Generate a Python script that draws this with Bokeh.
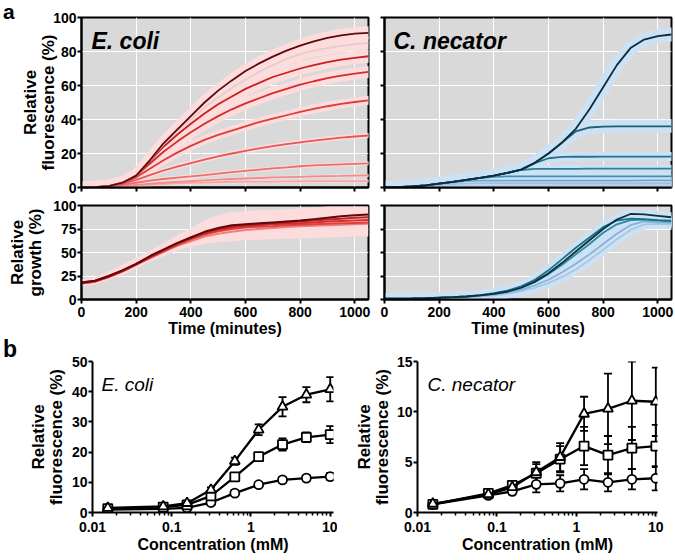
from bokeh.plotting import figure
from bokeh.layouts import column, row
from bokeh.models import (Range1d, FixedTicker, CustomJSTickFormatter, Label,
                          Whisker, TeeHead, ColumnDataSource, Div)
from bokeh.embed import file_html
from bokeh.resources import INLINE

FONT = "Liberation Sans"

# ---------------- data: panel a (time courses) ----------------
time_min = [0, 50, 100, 150, 200, 250, 300, 350, 400, 450, 500, 550,
            600, 650, 700, 750, 800, 850, 900, 950, 1000, 1050]
time_ticks = [0, 200, 400, 600, 800, 1000]

# E. coli relative fluorescence (%), low -> high concentration
ec_f1 = [0, 0, 0.2, 0.5, 1.0, 1.5, 2.0, 2.4, 2.7, 2.9, 3.1, 3.3, 3.4, 3.5, 3.5, 3.6, 3.6, 3.7, 3.7, 3.7, 3.8, 3.8]
ec_f2 = [0, 0.1, 0.3, 0.8, 1.5, 2.2, 2.8, 3.3, 3.8, 4.2, 4.6, 5.0, 5.3, 5.6, 5.9, 6.1, 6.3, 6.5, 6.7, 6.8, 7.0, 7.1]
ec_f3 = [0, 0.1, 0.5, 1.5, 2.8, 4.0, 5.0, 5.8, 6.5, 7.3, 8.2, 9.0, 9.8, 10.5, 11.2, 11.8, 12.5, 13.0, 13.3, 13.6, 13.9, 14.2]
ec_f4 = [0, 0.2, 0.7, 2.2, 4.5, 7.3, 10, 12.3, 14.4, 16.4, 18.3, 20, 21.6, 23, 24.3, 25.5, 26.6, 27.6, 28.5, 29.3, 30, 30.6]
ec_f5 = [0, 0.2, 0.8, 2.6, 6, 11, 16, 20.5, 24.5, 28, 31, 33.5, 36, 38.5, 40.5, 42.5, 44.5, 46.3, 47.8, 49.2, 50.3, 51.3]
ec_f6 = [0, 0.2, 0.8, 2.7, 6.8, 14, 21, 27, 32.5, 37.5, 42, 46, 49.5, 52.5, 55.5, 58, 60.5, 62.5, 64.3, 65.8, 67, 68]
ec_f7 = [0, 0.2, 0.8, 2.8, 7, 15.5, 24, 31, 37.5, 43.5, 49, 53.5, 58, 61.5, 65, 67.5, 70, 72, 73.8, 75.2, 76.3, 77.2]
ec_f8 = [0, 0.2, 0.8, 2.8, 7, 16, 25.5, 33, 40, 47, 53, 58.5, 63.5, 68, 72, 75.5, 78.5, 80.5, 82, 83.3, 84.3, 85]
ec_f9 = [0, 0.2, 0.8, 2.8, 7, 16, 26, 34, 42, 50, 57, 63, 68.5, 73, 77, 80.5, 83.5, 86, 88, 89.5, 90.5, 91]

# C. necator relative fluorescence (%), low -> high concentration
cn_f1 = [0, 0.1, 0.3, 0.5, 0.7, 0.8, 0.9, 1.0, 1.0, 1.1, 1.1, 1.1, 1.2, 1.2, 1.2, 1.2, 1.2, 1.2, 1.2, 1.2, 1.2, 1.2]
cn_f2 = [0, 0.2, 0.5, 1.0, 1.6, 2.0, 2.3, 2.4, 2.5, 2.5, 2.5, 2.5, 2.5, 2.5, 2.5, 2.5, 2.5, 2.5, 2.5, 2.5, 2.5, 2.5]
cn_f3 = [0, 0.2, 0.6, 1.3, 2.2, 3.1, 3.7, 4.0, 4.1, 4.1, 4.1, 4.1, 4.1, 4.1, 4.1, 4.1, 4.1, 4.1, 4.1, 4.2, 4.2, 4.2]
cn_f4 = [0, 0.2, 0.6, 1.3, 2.3, 3.3, 4.5, 5.6, 6.3, 6.5, 6.5, 6.5, 6.5, 6.5, 6.5, 6.5, 6.5, 6.5, 6.6, 6.6, 6.6, 6.6]
cn_f5 = [0, 0.2, 0.6, 1.3, 2.3, 3.3, 4.5, 5.7, 7.0, 8.6, 10.3, 10.9, 11.0, 11.0, 11.0, 11.1, 11.1, 11.1, 11.1, 11.1, 11.1, 11.1]
cn_f6 = [0, 0.2, 0.6, 1.3, 2.3, 3.3, 4.5, 5.7, 7.0, 8.6, 10.5, 14.3, 17.2, 18.0, 18.1, 18.1, 18.2, 18.2, 18.2, 18.2, 18.2, 18.2]
cn_f7 = [0, 0.2, 0.6, 1.3, 2.3, 3.3, 4.5, 5.7, 7.0, 8.6, 10.5, 14.5, 20, 26.5, 33, 35.3, 35.8, 36, 36, 36, 36, 36]
cn_f8 = [0, 0.2, 0.6, 1.3, 2.3, 3.3, 4.5, 5.7, 7.0, 8.6, 10.5, 14.5, 20, 26.5, 34.5, 46, 59, 72, 82, 87, 89, 90]

# E. coli relative growth (%)
ec_g1 = [17, 19, 24, 30, 37, 44, 51, 57, 62, 67, 70, 72, 74, 75, 76, 77, 78, 78.5, 79, 79.5, 80, 80.5]
ec_g2 = [17, 19, 24, 30, 37, 44, 51, 58, 64, 69, 72.5, 75, 76.5, 77.5, 78, 79, 79.5, 80, 80.5, 81, 81.5, 82]
ec_g3 = [17, 20, 24, 30, 37, 45, 52, 59, 65, 70, 74, 76.5, 78, 79, 80, 80.5, 81, 82, 83, 83.5, 84, 84.5]
ec_g4 = [18, 20, 25, 31, 38, 46, 53, 60, 66, 71, 75, 77.5, 79, 80, 81, 82, 83, 84, 85, 86, 87, 87.5]
ec_g5 = [18, 20, 25, 31, 38, 46, 53, 60, 66, 72, 76, 79, 80, 81, 82, 83, 84, 85.5, 87, 88.5, 89.5, 90.5]
ec_g_upper = [22, 24, 30, 37, 45, 52, 60, 68, 76, 84, 90, 93, 94, 95, 95, 96, 97, 98, 99, 99, 99, 99]
ec_g_lower = [14, 16, 21, 26, 33, 40, 46, 52, 56, 59, 61, 62, 63, 63.5, 64, 64.5, 65, 65.5, 66, 66.5, 67, 67]

# C. necator relative growth (%)
cn_g1 = [1, 1, 1.1, 1.3, 1.6, 2, 2.5, 3.3, 4.5, 6.2, 8.8, 12.5, 17.5, 24, 32, 42, 53, 64, 74, 80, 80.5, 80]
cn_g2 = [1, 1, 1.1, 1.4, 1.8, 2.2, 2.8, 3.8, 5.2, 7.3, 10.5, 15, 21, 29, 38, 48, 59, 70, 79, 83, 82, 81.5]
cn_g3 = [1, 1, 1.2, 1.5, 2, 2.5, 3.2, 4.3, 6, 8.5, 12.5, 18.5, 27, 37, 48, 59, 71, 80, 84.5, 85, 84, 83]
cn_g4 = [1, 1, 1.2, 1.5, 2, 2.6, 3.4, 4.7, 6.7, 9.5, 14, 21, 31, 43, 55, 66, 77, 84, 86, 85.5, 84.5, 84]
cn_g5 = [1, 1, 1.2, 1.5, 2, 2.5, 3.2, 4.3, 6, 8.5, 12.5, 19, 28, 39, 51, 63, 75, 85, 91, 90.5, 89, 87.5]

# ---------------- data: panel b (dose response) ----------------
conc_mM = [0.0156, 0.078, 0.156, 0.3125, 0.625, 1.25, 2.5, 5, 10]
conc_ticks = [0.01, 0.1, 1, 10]

ec_tri = [1.5, 2.0, 3.1, 7.5, 17.0, 27.4, 35.0, 39.0, 40.8]
ec_tri_err = [0.5, 0.5, 0.6, 0.8, 1.2, 1.8, 3.2, 2.5, 4.0]
ec_sq = [1.3, 1.8, 2.5, 5.5, 11.8, 18.5, 22.5, 24.9, 25.8]
ec_sq_err = [0.5, 0.5, 0.6, 0.8, 1.0, 1.2, 2.0, 1.6, 2.8]
ec_circ = [1.0, 1.2, 1.5, 3.3, 6.4, 9.2, 10.8, 11.4, 11.9]
ec_circ_err = [0.4, 0.4, 0.5, 0.6, 0.8, 0.8, 1.0, 0.8, 1.2]

cn_tri = [0.86, 1.8, 2.5, 4.0, 5.5, 9.8, 10.3, 11.1, 11.0]
cn_tri_err = [0.2, 0.3, 0.4, 1.0, 1.4, 1.7, 3.5, 3.9, 3.4]
cn_sq = [0.8, 1.9, 2.7, 3.9, 5.3, 6.6, 5.7, 6.4, 6.6]
cn_sq_err = [0.2, 0.3, 0.4, 0.9, 1.3, 1.9, 1.9, 2.1, 2.1]
cn_circ = [0.8, 1.7, 2.1, 2.8, 2.9, 3.3, 3.0, 3.3, 3.4]
cn_circ_err = [0.2, 0.3, 0.3, 0.8, 0.8, 1.0, 0.9, 1.0, 1.2]

# ---------------- styling helpers ----------------
BG = "#d9d9d9"
PINK_BAND = "#fcdcdc"
BLUE_BAND = "#cce2f4"


def add_text(p, x, y, text, dx, dy, size, style):
    p.add_layout(Label(x=x, y=y, x_offset=dx, y_offset=dy, text=text,
                       text_font=FONT, text_font_size=f"{size}px",
                       text_font_style=style, text_align="left",
                       text_baseline="alphabetic", text_color="black"))


def style_axes(p):
    for ax in p.axis:
        ax.axis_line_color = "black"
        ax.axis_line_width = 2
        ax.major_tick_in = 0
        ax.major_tick_out = 4
        ax.major_tick_line_width = 2
        ax.major_tick_line_color = "black"
        ax.major_label_text_font = FONT
        ax.major_label_text_font_style = "bold"
        ax.major_label_text_font_size = "14px"
        ax.major_label_text_color = "black"
        ax.axis_label_text_font = FONT
        ax.axis_label_text_font_style = "bold"
        ax.axis_label_text_color = "black"
    p.xaxis.major_label_standoff = 3
    p.yaxis.major_label_standoff = 1
    p.xaxis.axis_label_text_font_size = "16px"
    p.yaxis.axis_label_text_font_size = "17px"
    p.yaxis.axis_label_text_line_height = 0.95


def hide_labels(ax):
    ax.major_label_text_color = None
    ax.major_label_text_alpha = 0
    ax.major_label_text_font_size = "1px"
    ax.major_label_standoff = 0


def time_fig(width, height, bl, br, bt, bb, y_ticks, show_x, show_y):
    p = figure(width=width, height=height, x_range=Range1d(0, 1050),
               y_range=Range1d(0, 100), output_backend="svg",
               toolbar_location=None, min_border_left=bl,
               min_border_right=br, min_border_top=bt, min_border_bottom=bb)
    p.background_fill_color = BG
    p.border_fill_color = "white"
    p.outline_line_color = "black"
    p.outline_line_width = 2
    p.xaxis.ticker = FixedTicker(ticks=time_ticks)
    p.yaxis.ticker = FixedTicker(ticks=y_ticks)
    p.grid.grid_line_color = "white"
    p.grid.grid_line_width = 1
    style_axes(p)
    for ax in p.axis:
        ax.minor_tick_line_color = None
    if not show_x:
        hide_labels(p.xaxis[0])
    if not show_y:
        hide_labels(p.yaxis[0])
    return p


def conc_fig(width, height, bl, br, bt, bb, x_max, y_max, y_ticks):
    p = figure(width=width, height=height, x_axis_type="log",
               x_range=Range1d(0.01, x_max), y_range=Range1d(0, y_max),
               output_backend="svg", toolbar_location=None,
               min_border_left=bl, min_border_right=br,
               min_border_top=bt, min_border_bottom=bb)
    p.outline_line_color = None
    p.grid.visible = False
    p.background_fill_color = "white"
    p.border_fill_color = "white"
    minor = [k * d for d in (0.01, 0.1, 1, 10) for k in range(2, 10)
             if k * d <= x_max]
    p.xaxis.ticker = FixedTicker(ticks=conc_ticks, minor_ticks=minor)
    p.xaxis.formatter = CustomJSTickFormatter(
        code="return tick >= 1 ? Math.round(tick).toString() : String(Number(tick.toPrecision(1)));")
    p.yaxis.ticker = FixedTicker(ticks=y_ticks)
    style_axes(p)
    p.xaxis.major_label_standoff = 5
    p.xaxis.minor_tick_in = 0
    p.xaxis.minor_tick_out = 3
    p.xaxis.minor_tick_line_width = 1.5
    p.xaxis.minor_tick_line_color = "black"
    p.yaxis.minor_tick_line_color = None
    return p


def dose_series(p, vals, errs, marker, size):
    src = ColumnDataSource(dict(
        x=conc_mM, y=vals,
        lo=[v - e for v, e in zip(vals, errs)],
        hi=[v + e for v, e in zip(vals, errs)]))
    p.add_layout(Whisker(source=src, base="x", upper="hi", lower="lo",
                         line_color="black", line_width=1.8,
                         upper_head=TeeHead(size=8, line_width=1.8, line_color="black"),
                         lower_head=TeeHead(size=8, line_width=1.8, line_color="black")))
    p.line("x", "y", source=src, line_color="black", line_width=2.3)
    p.scatter("x", "y", source=src, marker=marker, size=size,
              fill_color="white", line_color="black", line_width=1.8)


def panel_letter(letter, width, height, size, lh):
    return Div(text=f'<div style="padding-left:3px">{letter}</div>',
               width=width, height=height, margin=0,
               styles={"font-family": FONT, "font-weight": "bold",
                       "font-size": f"{size}px", "line-height": str(lh),
                       "color": "black"})


# ---------------- panel a, top left: E. coli fluorescence ----------------
a1 = time_fig(362, 196, 67, 8, 17, 9, [0, 20, 40, 60, 80, 100], False, True)
a1.yaxis.axis_label = "Relative\nfluorescence (%)"
a1.yaxis.axis_label_standoff = -8
ec_f_series = [ec_f1, ec_f2, ec_f3, ec_f4, ec_f5, ec_f6, ec_f7, ec_f8, ec_f9]
ec_f_colors = ["#f4a6a6", "#ef8c8c", "#ea7070", "#e45858", "#dc3c3c",
               "#d42c2c", "#c8201f", "#e6cccc", "#5c0a0e"]
ec_f_band_w = [3, 3, 4, 5, 9, 12, 13, 13, 13]
for ys, w in zip(ec_f_series, ec_f_band_w):
    a1.line(time_min, ys, line_color=PINK_BAND, line_width=w,
            line_cap="round", line_join="round")
for ys, c in zip(ec_f_series, ec_f_colors):
    a1.line(time_min, ys, line_color=c, line_width=1.8)
add_text(a1, 0, 100, "E. coli", 10, -23, 23, "bold italic")

# ---------------- panel a, top right: C. necator fluorescence ----------------
a2 = time_fig(298, 196, 8, 3, 17, 9, [0, 20, 40, 60, 80, 100], False, False)
cn_f_series = [cn_f1, cn_f2, cn_f3, cn_f4, cn_f5, cn_f6, cn_f7, cn_f8]
cn_f_colors = ["#b5cbe9", "#9fc0e3", "#6fa7cf", "#3d8fb0", "#2a7f9a",
               "#23738d", "#1b5f76", "#0c2c3a"]
cn_f_band_w = [7, 7, 7, 7, 8, 9, 13, 14]
for ys, w in zip(cn_f_series, cn_f_band_w):
    a2.line(time_min, ys, line_color=BLUE_BAND, line_width=w,
            line_cap="round", line_join="round")
for ys, c in zip(cn_f_series, cn_f_colors):
    a2.line(time_min, ys, line_color=c, line_width=1.8)
add_text(a2, 0, 100, "C. necator", 9, -23, 23, "bold italic")

# ---------------- panel a, bottom left: E. coli growth ----------------
a3 = time_fig(376, 144, 81, 8, 9, 41, [0, 25, 50, 75, 100], True, True)
a3.yaxis.axis_label = "Relative\ngrowth (%)"
a3.yaxis.axis_label_standoff = 5
a3.xaxis.axis_label = "Time (minutes)"
a3.xaxis.axis_label_standoff = 0
a3.varea(x=time_min, y1=ec_g_lower, y2=ec_g_upper, fill_color=PINK_BAND)
ec_g_series = [ec_g1, ec_g2, ec_g3, ec_g4, ec_g5]
ec_g_colors = ["#ee7f7f", "#e04040", "#d83030", "#c41e1e", "#5c0a0e"]
for ys, c in zip(ec_g_series, ec_g_colors):
    a3.line(time_min, ys, line_color=c, line_width=2)

# ---------------- panel a, bottom right: C. necator growth ----------------
a4 = time_fig(298, 144, 8, 3, 9, 41, [0, 25, 50, 75, 100], True, False)
a4.xaxis.axis_label = "Time (minutes)"
a4.xaxis.axis_label_standoff = 0
cn_g_series = [cn_g1, cn_g2, cn_g3, cn_g4, cn_g5]
cn_g_colors = ["#a9c5e6", "#86b2d9", "#2a8aa3", "#1d7187", "#0d2f3f"]
for ys in cn_g_series:
    a4.line(time_min, ys, line_color=BLUE_BAND, line_width=10,
            line_cap="round", line_join="round")
for ys, c in zip(cn_g_series, cn_g_colors):
    a4.line(time_min, ys, line_color=c, line_width=1.8)

# ---------------- panel b, left: E. coli dose response ----------------
b1 = conc_fig(317, 220, 72, 4, 21, 48, 11, 50, [0, 10, 20, 30, 40, 50])
b1.yaxis.axis_label = "Relative\nfluorescence (%)"
b1.yaxis.axis_label_standoff = 3
b1.xaxis.axis_label = "Concentration (mM)"
b1.xaxis.axis_label_standoff = 1
dose_series(b1, ec_circ, ec_circ_err, "circle", 9)
dose_series(b1, ec_sq, ec_sq_err, "square", 9)
dose_series(b1, ec_tri, ec_tri_err, "triangle", 10)
add_text(b1, 0.01, 50, "E. coli", 9, -23, 19, "italic")

# ---------------- panel b, right: C. necator dose response ----------------
b2 = conc_fig(334, 220, 80, 14, 21, 48, 10.5, 15, [0, 5, 10, 15])
b2.yaxis.axis_label = "Relative\nfluorescence (%)"
b2.yaxis.axis_label_standoff = 2
b2.xaxis.axis_label = "Concentration (mM)"
b2.xaxis.axis_label_standoff = 1
dose_series(b2, cn_circ, cn_circ_err, "circle", 9)
dose_series(b2, cn_sq, cn_sq_err, "square", 9)
dose_series(b2, cn_tri, cn_tri_err, "triangle", 10)
add_text(b2, 0.01, 15, "C. necator", 10, -23, 19, "italic")

layout = column(row(panel_letter("a", 14, 196, 21, 1.12), a1, a2),
                row(a3, a4),
                row(panel_letter("b", 20, 220, 23, 0.8), b1, b2))
open("out.html", "w").write(file_html(layout, INLINE))
